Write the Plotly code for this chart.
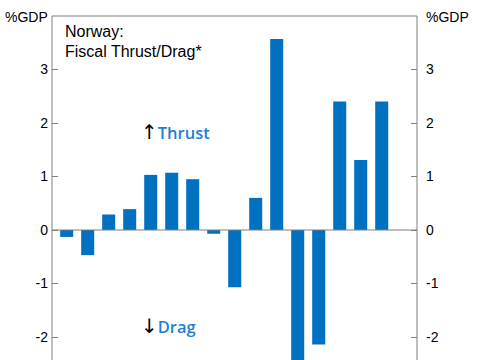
import plotly.graph_objects as go

# Data (categories unlabelled in the crop)
periods = list(range(16))
thrust = [-0.13, -0.47, 0.29, 0.39, 1.03, 1.07, 0.95, -0.07, -1.07, 0.60,
          3.57, -2.60, -2.14, 2.40, 1.31, 2.40]
y_ticks = [-2, -1, 0, 1, 2, 3]
y_tick_labels = ["-2", "-1", "0", "1", "2", "3"]

W, H = 485, 360
L, R, T, B = 52, 68, 16, 0
pw, ph = W - L - R, H - T - B

def px(x):
    return (x - L) / pw

def py(y):
    return (H - B - y) / ph

fig = go.Figure()
fig.add_trace(go.Bar(x=periods, y=thrust, marker=dict(color="#0070C0", line=dict(width=0)),
                     width=0.62, showlegend=False, hoverinfo="skip"))
fig.add_trace(go.Scatter(x=[periods[0]], y=[None], yaxis="y2", showlegend=False,
                         hoverinfo="skip"))

axis_common = dict(range=[-2.43, 4], tickvals=y_ticks, ticktext=y_tick_labels,
                   ticks="inside", ticklen=6,
                   tickcolor="#7f7f7f", showgrid=False, zeroline=False, showline=False,
                   tickfont=dict(family="Liberation Sans, Arial", size=14, color="black"))
fig.update_layout(
    width=W, height=H,
    margin=dict(l=L, r=R, t=T, b=B, pad=0),
    plot_bgcolor="white", paper_bgcolor="white",
    xaxis=dict(range=[-0.7, 16.68], showticklabels=False, ticks="", showgrid=False,
               zeroline=False, showline=False),
    yaxis=dict(**axis_common, side="left", ticklabelstandoff=3),
    yaxis2=dict(**axis_common, side="right", overlaying="y", ticklabelstandoff=8),
    shapes=[
        dict(type="line", xref="paper", yref="paper", x0=0, x1=1, y0=1, y1=1,
             line=dict(color="#7f7f7f", width=1)),
        dict(type="line", xref="paper", yref="paper", x0=0, x1=0, y0=-0.01, y1=1,
             line=dict(color="#7f7f7f", width=1)),
        dict(type="line", xref="paper", yref="paper", x0=1, x1=1, y0=-0.01, y1=1,
             line=dict(color="#7f7f7f", width=1)),
        dict(type="line", xref="paper", yref="y", x0=0, x1=1, y0=0, y1=0,
             line=dict(color="#7f7f7f", width=1)),
    ],
)

txt = dict(family="Liberation Sans, Arial", size=14, color="black")
fig.add_annotation(text="%GDP", xref="paper", yref="paper", x=px(50), y=py(17),
                   xanchor="right", yanchor="middle", showarrow=False, font=txt)
fig.add_annotation(text="%GDP", xref="paper", yref="paper", x=px(424), y=py(17),
                   xanchor="left", yanchor="middle", showarrow=False, font=txt)
title_font = dict(family="Liberation Sans, Arial", size=16, color="black")
fig.add_annotation(text="Norway:", xref="paper", yref="paper", x=px(63), y=py(32),
                   xanchor="left", yanchor="middle", showarrow=False, font=title_font)
fig.add_annotation(text="Fiscal Thrust/Drag*", xref="paper", yref="paper", x=px(63), y=py(52),
                   xanchor="left", yanchor="middle", showarrow=False, font=title_font)
lab_font = dict(family="Open Sans", size=16.5, color="#1f7fcf", weight=600)
arrow_style = "color:black;font-weight:400;font-family:DejaVu Sans;font-size:20px"
fig.add_annotation(text=f"<span style='{arrow_style}'>↑</span>Thrust",
                   xref="paper", yref="paper", x=px(139), y=py(132),
                   xanchor="left", yanchor="middle", showarrow=False, font=lab_font)
fig.add_annotation(text=f"<span style='{arrow_style}'>↓</span>Drag",
                   xref="paper", yref="paper", x=px(139), y=py(326),
                   xanchor="left", yanchor="middle", showarrow=False, font=lab_font)

fig.write_html("out.html", config={"displayModeBar": False},
               post_script="document.body.style.margin='0';document.body.style.overflow='hidden';")
